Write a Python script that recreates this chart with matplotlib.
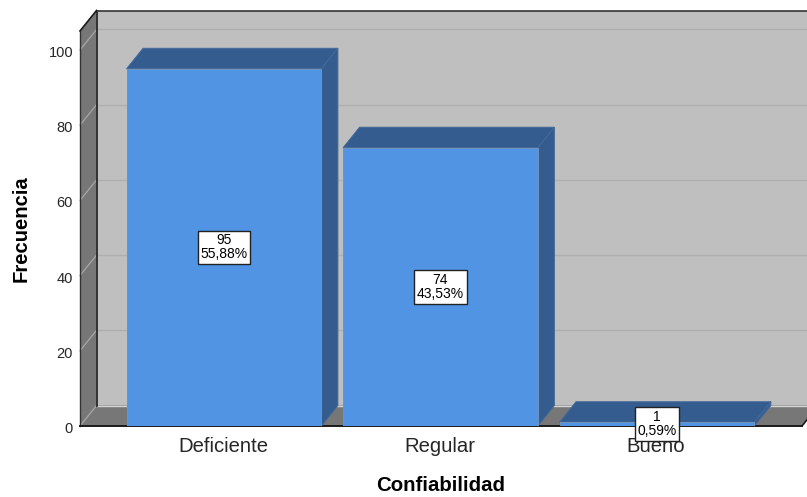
import matplotlib
matplotlib.use("Agg")
import matplotlib.pyplot as plt
from matplotlib.patches import Polygon
from matplotlib.transforms import ScaledTranslation

categories = ["Deficiente", "Regular", "Bueno"]
counts = [95, 74, 1]
percents = ["55,88%", "43,53%", "0,59%"]
yticks = [0, 20, 40, 60, 80, 100]

plt.rcParams['font.family'] = ['Liberation Sans', 'DejaVu Sans']
W, H = 807, 497
fig = plt.figure(figsize=(W/100, H/100), dpi=100, facecolor='white')
ax = fig.add_axes([80/W, (H-426)/H, 722/W, 395/H])
XMIN, XMAX, YMAX = -0.665, 2.67, 105.05
ax.set_xlim(XMIN, XMAX)
ax.set_ylim(0, YMAX)
ax.patch.set_visible(False)
for s in ax.spines.values():
    s.set_visible(False)

# depth of the 3D effect, in data units
dx = 16.5 / (722/(XMAX-XMIN))
dy = 20.5 / (395/YMAX)
bw = 0.9

def poly(pts, fc, ec='none', lw=0, z=1):
    ax.add_patch(Polygon(pts, closed=True, facecolor=fc, edgecolor=ec, linewidth=lw,
                         zorder=z, clip_on=False))

GREY = '#777777'
TOP = YMAX + dy
poly([(XMIN+dx, dy), (XMAX+dx, dy), (XMAX+dx, TOP), (XMIN+dx, TOP)], '#bfbfbf', z=1)
poly([(XMIN, 0), (XMIN+dx, dy), (XMAX+dx, dy), (XMAX, 0)], GREY, z=1.5)
poly([(XMIN, 0), (XMIN+dx, dy), (XMIN+dx, TOP), (XMIN, YMAX)], GREY, z=1.5)

for t in yticks[1:]:
    ax.plot([XMIN+dx, XMAX+dx], [t+dy, t+dy], color='#afafaf', lw=1, zorder=1.2, clip_on=False)
for t in yticks:
    ax.plot([XMIN, XMIN+dx], [t, t+dy], color='#a6a6a6', lw=0.9, zorder=1.6, clip_on=False)
ax.plot([XMIN+dx, XMAX+dx], [dy, dy], color='#d4d4d4', lw=1, zorder=1.7, clip_on=False)

# frame
dark = '#1a1a1a'
ax.plot([XMIN+dx, XMIN+dx], [dy, TOP], color=dark, lw=1.2, zorder=1.8, clip_on=False)
ax.plot([XMIN+dx, XMAX+dx], [TOP, TOP], color='#333333', lw=1.2, zorder=1.8, clip_on=False)
ax.plot([XMIN, XMIN+dx], [YMAX, TOP], color=dark, lw=1.2, zorder=1.8, clip_on=False)
ax.plot([XMIN, XMIN], [0, YMAX], color='#333333', lw=1, zorder=1.8, clip_on=False)
ax.plot([XMIN, XMAX], [0, 0], color=dark, lw=1.4, zorder=1.8, clip_on=False)
ax.plot([XMAX, XMAX+dx], [0, dy], color=dark, lw=1.2, zorder=1.8, clip_on=False)

FRONT, SHADE, EDGE = '#5294e4', '#345c8f', '#44699a'
for i, v in enumerate(counts):
    l, r = i-bw/2, i+bw/2
    poly([(l, v), (l+dx, v+dy), (r+dx, v+dy), (r, v)], SHADE, EDGE, 0.7, z=3)
    poly([(r, 0), (r+dx, dy), (r+dx, v+dy), (r, v)], SHADE, EDGE, 0.7, z=3)
    ax.bar(i, v, width=bw, color=FRONT, edgecolor='#6f93bf', linewidth=0.7, zorder=4)
    ax.text(i, v/2, f"{v}\n{percents[i]}", ha='center', va='center', fontsize=10,
            color='black', linespacing=1.0, zorder=5,
            bbox=dict(boxstyle='square,pad=0.2', fc='white', ec='#222222', lw=1))

ax.set_xticks(range(3))
ax.set_xticklabels(categories, fontsize=14.6, color='#262626')
ax.set_yticks(yticks)
ax.set_yticklabels([str(t) for t in yticks], fontsize=10.5, color='#262626')
ax.tick_params(axis='both', length=0)
ax.tick_params(axis='x', pad=8)
ax.tick_params(axis='y', pad=5)
shift = ScaledTranslation(0, -1.5/72*0.72, fig.dpi_scale_trans)
for lab in ax.get_yticklabels():
    lab.set_transform(lab.get_transform() + shift)
shift_x = ScaledTranslation(-1/100, 0, fig.dpi_scale_trans)
for lab in ax.get_xticklabels():
    lab.set_transform(lab.get_transform() + shift_x)
ax.xaxis.set_zorder(6)
ax.set_axisbelow(False)

fig.text(441/W, 1-485.5/H, "Confiabilidad", ha='center', va='center', fontsize=14.7, fontweight='bold')
fig.text(21/W, 1-229/H, "Frecuencia", ha='center', va='center', rotation=90, fontsize=14.6, fontweight='bold')

fig.savefig("out.png", dpi=100)
